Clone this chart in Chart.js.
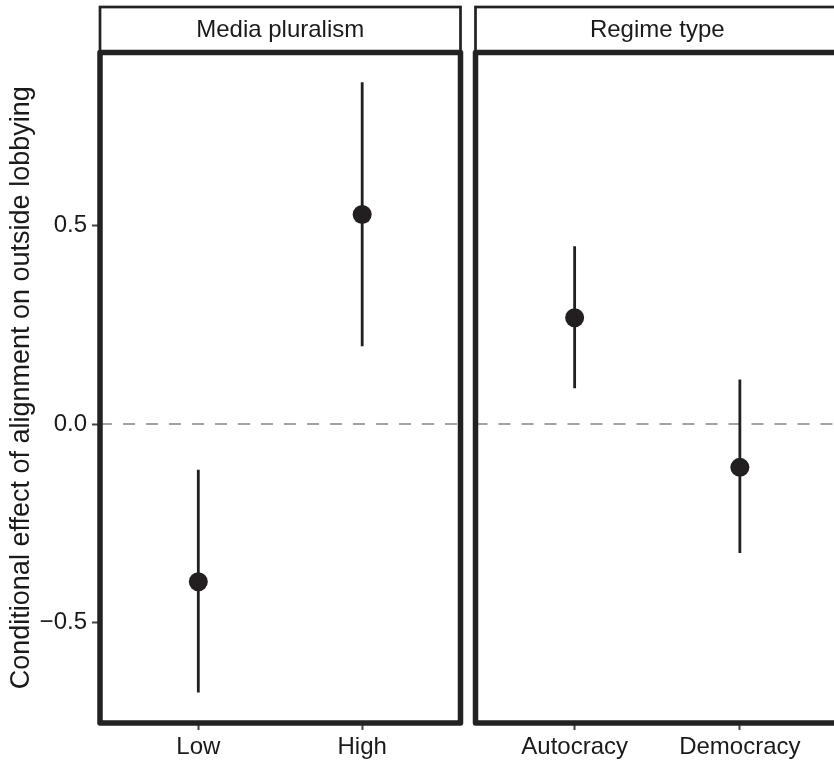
<!DOCTYPE html>
<html>
<head>
<meta charset="utf-8">
<script src="https://cdn.jsdelivr.net/npm/chart.js@4"></script>
<style>
    html, body { margin: 0; padding: 0; background: #fff; overflow: hidden; width: 834px; height: 761px; }
    canvas { position: absolute; top: 0; }
    #panel1 { left: 0; }
    #panel2 { left: 466px; }
</style>
</head>
<body>
<canvas id="panel1" width="470" height="761"></canvas>
<canvas id="panel2" width="384" height="761"></canvas>
<script>
const facets = ['Media pluralism', 'Regime type'];
const yTitle = 'Conditional effect of alignment on outside lobbying';

const pluralismLevels = ['Low', 'High'];
const pluralismEstimate = [-0.397, 0.528];
const pluralismLower = [-0.676, 0.196];
const pluralismUpper = [-0.115, 0.861];

const regimeLevels = ['Autocracy', 'Democracy'];
const regimeEstimate = [0.268, -0.109];
const regimeLower = [0.090, -0.325];
const regimeUpper = [0.448, 0.112];

const yTicks = [-0.5, 0, 0.5];
const yMin = -0.753;
const yMax = 0.936;

const ink = '#231f20';
const fontFamily = '"Liberation Sans", Arial, Helvetica, sans-serif';

// dashed zero line under the marks, frame and strip on top
const facetPlugin = {
    id: 'facet',
    beforeDatasetsDraw(chart, args, opts) {
        let ctx = chart.ctx;
        let area = chart.chartArea;
        let y0 = chart.scales.y.getPixelForValue(0);
        ctx.save();
        ctx.strokeStyle = '#a3a3a3';
        ctx.lineWidth = 2;
        ctx.setLineDash([12, 11]);
        ctx.beginPath();
        ctx.moveTo(area.left, y0);
        ctx.lineTo(area.right, y0);
        ctx.stroke();
        ctx.restore();
    },
    afterDatasetsDraw(chart, args, opts) {
        let ctx = chart.ctx;
        let area = chart.chartArea;
        ctx.save();
        // strip
        ctx.fillStyle = '#fff';
        ctx.fillRect(area.left, opts.stripTop, area.right - area.left, area.top - opts.stripTop);
        ctx.strokeStyle = '#222';
        ctx.lineWidth = 2.7;
        ctx.strokeRect(area.left, opts.stripTop, area.right - area.left, area.top - opts.stripTop);
        ctx.fillStyle = '#1a1a1a';
        ctx.font = '24px ' + fontFamily;
        ctx.textAlign = 'center';
        ctx.textBaseline = 'middle';
        ctx.fillText(opts.title, (area.left + area.right) / 2, (opts.stripTop + area.top) / 2 + 1);
        // panel frame
        ctx.lineWidth = 5.5;
        ctx.lineJoin = 'round';
        ctx.strokeStyle = '#222';
        ctx.strokeRect(area.left, area.top, area.right - area.left, area.bottom - area.top);
        ctx.restore();
    }
};

function formatTick(v) {
    let s = Math.abs(v).toFixed(1);
    return v < 0 ? '\u2212' + s : s;
}

function makePanel(canvasId, title, levels, estimate, lower, upper, showY, padding) {
    let datasets = [];
    for (let i = 0; i < levels.length; i++) {
        datasets.push({
            type: 'line',
            data: [{x: i, y: lower[i]}, {x: i, y: upper[i]}],
            borderColor: ink,
            borderWidth: 2.8,
            pointRadius: 0,
            showLine: true
        });
    }
    datasets.push({
        type: 'scatter',
        data: estimate.map((v, i) => ({x: i, y: v})),
        backgroundColor: ink,
        borderWidth: 0,
        pointRadius: 9.5,
        pointHoverRadius: 9.5
    });

    let ctx = document.getElementById(canvasId).getContext('2d');
    return new Chart(ctx, {
        type: 'scatter',
        data: {datasets: datasets},
        plugins: [facetPlugin],
        options: {
            responsive: false,
            animation: false,
            events: [],
            layout: {padding: padding},
            plugins: {
                legend: {display: false},
                tooltip: {enabled: false},
                facet: {title: title, stripTop: 7}
            },
            scales: {
                x: {
                    type: 'linear',
                    min: -0.6,
                    max: levels.length - 0.4,
                    afterBuildTicks: (scale) => {
                        scale.ticks = levels.map((l, i) => ({value: i}));
                    },
                    afterFit: (scale) => { scale.height = 38; },
                    border: {display: false},
                    grid: {
                        drawOnChartArea: false,
                        drawTicks: true,
                        tickLength: 7,
                        tickColor: '#444',
                        tickWidth: 2
                    },
                    ticks: {
                        callback: (v) => levels[v],
                        color: '#1a1a1a',
                        padding: 3,
                        maxRotation: 0,
                        font: {family: fontFamily, size: 24}
                    }
                },
                y: {
                    type: 'linear',
                    display: showY,
                    min: yMin,
                    max: yMax,
                    afterBuildTicks: (scale) => {
                        scale.ticks = yTicks.map((v) => ({value: v}));
                    },
                    afterFit: (scale) => { scale.width = showY ? 100 : 0; },
                    border: {display: false},
                    grid: {
                        drawOnChartArea: false,
                        drawTicks: true,
                        tickLength: 8,
                        tickColor: '#444',
                        tickWidth: 2
                    },
                    ticks: {
                        callback: formatTick,
                        color: '#1a1a1a',
                        padding: 5,
                        font: {family: fontFamily, size: 24}
                    },
                    title: {
                        display: true,
                        text: yTitle,
                        color: '#1a1a1a',
                        padding: {top: 5, bottom: 0},
                        font: {family: fontFamily, size: 27}
                    }
                }
            }
        }
    });
}

let chart1 = makePanel('panel1', facets[0], pluralismLevels,
    pluralismEstimate, pluralismLower, pluralismUpper, true,
    {left: 0, top: 52.5, right: 9, bottom: 0});

let chart2 = makePanel('panel2', facets[1], regimeLevels,
    regimeEstimate, regimeLower, regimeUpper, false,
    {left: 6.5, top: 52.5, right: 11, bottom: 0});
</script>
</body>
</html>
